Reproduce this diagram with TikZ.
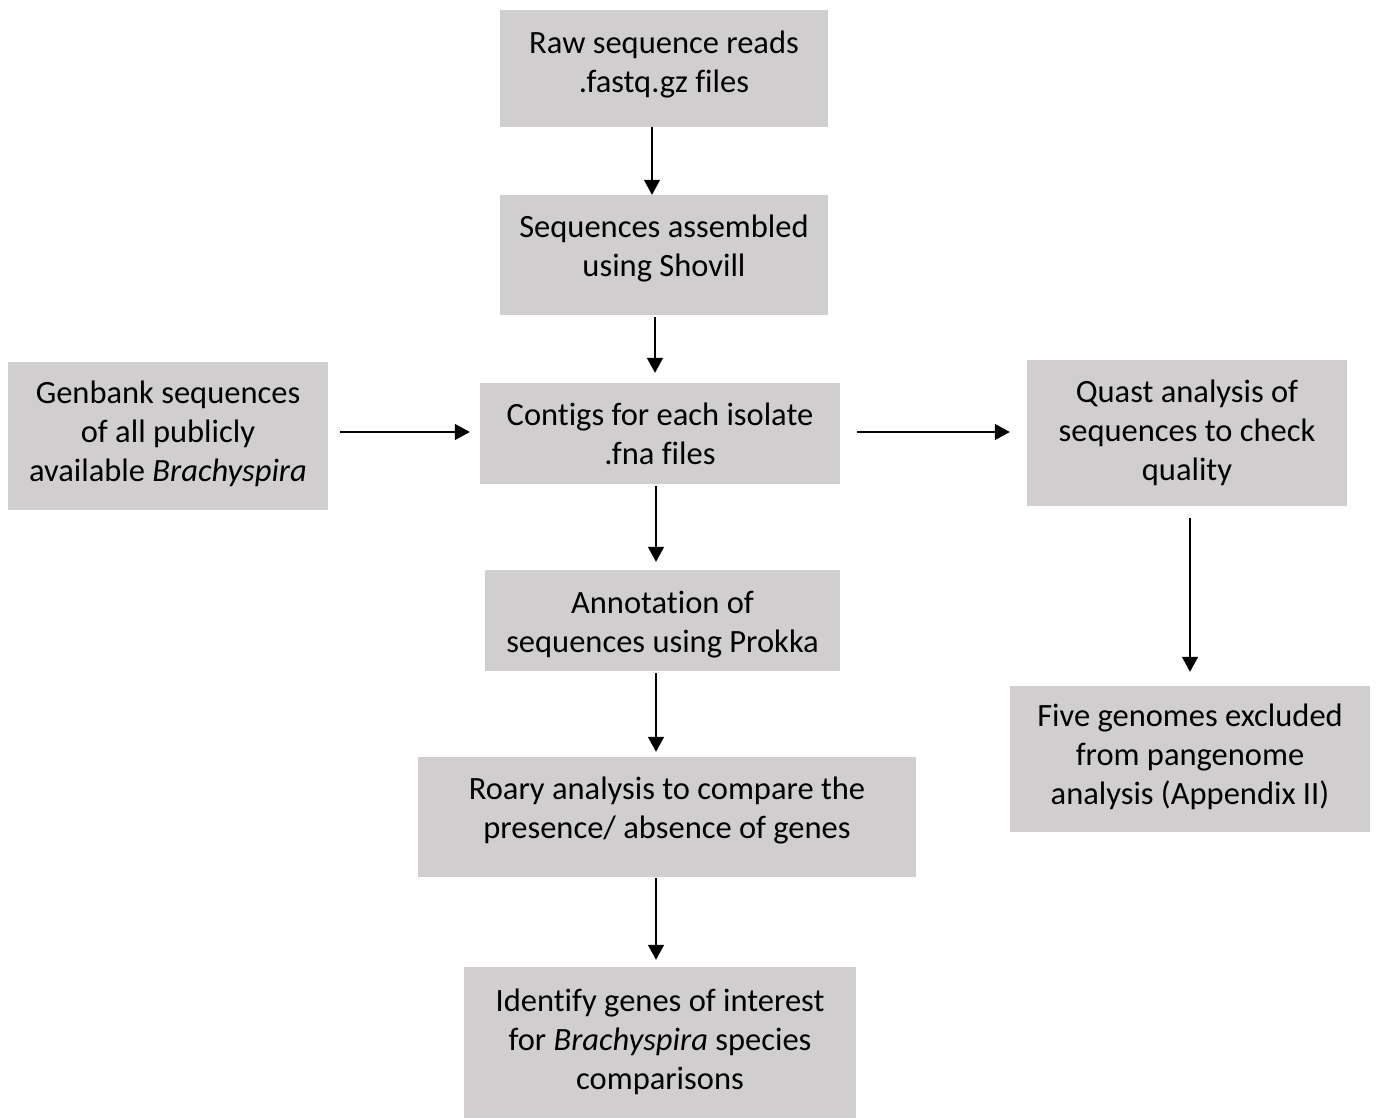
\documentclass[tikz,border=0pt]{standalone}
\usepackage{fontspec}
\setmainfont{Carlito}[Ligatures={NoCommon}]
\usetikzlibrary{arrows.meta,calc}
\definecolor{boxgray}{HTML}{D0CECE}
\tikzset{
  stepbox/.style={fill=boxgray, draw=none, inner sep=0pt},
  steptext/.style={align=center, inner sep=0pt, font=\fontsize{32.5}{39}\selectfont},
  conn/.style={-{Triangle[length=15pt,width=16pt]}, line width=1.3pt, black},
}
\begin{document}
\begin{tikzpicture}[x=1pt,y=-1pt]
\useasboundingbox (0,0) rectangle (1378,1118);
\node[stepbox, minimum width=328pt, minimum height=117pt, label={[steptext, yshift=4pt]center:{Raw sequence reads\\.fastq.gz files}}] (raw) at (664,68.5) {};
\node[stepbox, minimum width=328pt, minimum height=120pt, label={[steptext, yshift=6pt]center:{Sequences assembled\\using Shovill}}] (asm) at (664,255) {};
\node[stepbox, minimum width=360pt, minimum height=101pt, label={[steptext]center:{Contigs for each isolate\\.fna files}}] (contig) at (660,433.5) {};
\node[stepbox, minimum width=320pt, minimum height=148pt, label={[steptext, yshift=2pt]center:{Genbank sequences\\of all publicly\\available \textit{Brachyspira}}}] (gen) at (168,436) {};
\node[stepbox, minimum width=320pt, minimum height=146pt, label={[steptext]center:{Quast analysis of\\sequences to check\\quality}}] (quast) at (1187,433) {};
\node[stepbox, minimum width=355pt, minimum height=101pt, label={[steptext, yshift=-4pt]center:{Annotation of\\sequences using Prokka}}] (ann) at (662.5,620.5) {};
\node[stepbox, minimum width=498pt, minimum height=120pt, label={[steptext, yshift=6pt]center:{Roary analysis to compare the\\presence/ absence of genes}}] (roary) at (667,817) {};
\node[stepbox, minimum width=392pt, minimum height=151pt, label={[steptext, yshift=1pt]center:{Identify genes of interest\\for \textit{Brachyspira} species\\comparisons}}] (ident) at (660,1042.5) {};
\node[stepbox, minimum width=360pt, minimum height=146pt, label={[steptext, yshift=2pt]center:{Five genomes excluded\\from pangenome\\analysis (Appendix II)}}] (five) at (1190,759) {};

\draw[conn] (raw.south -| 652,0) -- (asm.north -| 652,0);
\draw[conn, shorten <=2pt, shorten >=10pt] (asm.south -| 655,0) -- (contig.north -| 655,0);
\draw[conn, shorten <=12pt, shorten >=10pt] (gen.east |- 0,432) -- (contig.west |- 0,432);
\draw[conn, shorten <=17pt, shorten >=17pt] (contig.east |- 0,432) -- (quast.west |- 0,432);
\draw[conn, shorten <=2pt, shorten >=8pt] (contig.south -| 656,0) -- (ann.north -| 656,0);
\draw[conn, shorten <=2pt, shorten >=5pt] (ann.south -| 656,0) -- (roary.north -| 656,0);
\draw[conn, shorten <=1pt, shorten >=7pt] (roary.south -| 656,0) -- (ident.north -| 656,0);
\draw[conn, shorten <=12pt, shorten >=14pt] (quast.south -| 1190,0) -- (five.north -| 1190,0);
\end{tikzpicture}
\end{document}
